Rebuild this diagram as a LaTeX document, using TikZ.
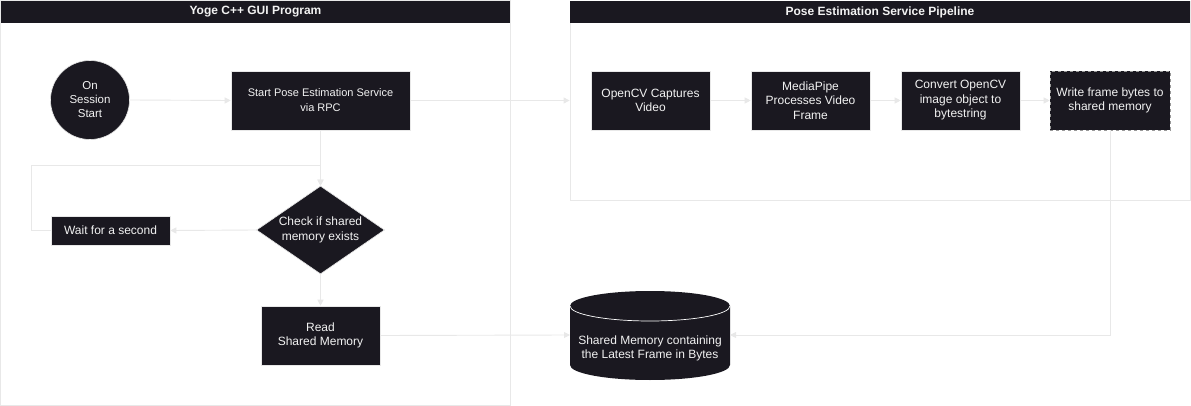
\documentclass[tikz,border=0pt]{standalone}
\usepackage{fontspec}
\setmainfont{Liberation Sans}
\usetikzlibrary{arrows.meta,shapes.geometric}
\definecolor{dk}{HTML}{1A1820}
\definecolor{ln}{HTML}{E8E8E8}
\definecolor{tx}{HTML}{F2F2F2}
\begin{document}
\begin{tikzpicture}[x=1pt,y=-1pt,
  txt/.style={font=\fontsize{12}{14.5}\selectfont,text=tx,align=center},
  box/.style={txt,draw=ln,line width=0.6pt,fill=dk,inner sep=0pt},
  hdr/.style={fill=dk,draw=none,inner sep=0pt,font=\fontsize{12}{14}\selectfont\bfseries,text=tx},
  cont/.style={draw=ln,line width=0.8pt,fill=white,inner sep=0pt},
  conn/.style={draw=ln,line width=0.9pt,-{Triangle[length=6pt,width=6pt]}}]
\useasboundingbox (0,0) rectangle (1191,406);
% containers
\node[cont,minimum width=509.5pt,minimum height=404.5pt] (lc) at (255.25,202.75) {};
\node[cont,minimum width=620pt,minimum height=199pt] (rc) at (880,100.5) {};
\node[hdr,minimum width=509pt,minimum height=22pt] (lh) at (255.5,12) {Yoge C++ GUI Program};
\node[hdr,minimum width=620pt,minimum height=22pt] (rh) at (880,12) {Pose Estimation Service Pipeline};
% left program
\node[box,circle,minimum size=79pt,font=\fontsize{11.5}{14}\selectfont] (start) at (90,100) {On\\Session\\Start};
\node[box,minimum width=179pt,minimum height=59pt,font=\fontsize{11}{15}\selectfont] (rpc) at (320.5,100.5) {Start Pose Estimation Service\\via RPC};
\node[box,diamond,aspect=1.45,minimum width=128pt,minimum height=88pt] (dia) at (320.5,230) {Check if shared\\memory exists};
\node[box,minimum width=119pt,minimum height=29pt] (wait) at (110.5,230.5) {Wait for a second};
\node[box,minimum width=119pt,minimum height=59pt] (read) at (320.5,335.5) {Read\\Shared Memory};
% pipeline
\node[box,minimum width=119pt,minimum height=59pt] (cv) at (650.5,100.5) {OpenCV Captures\\Video};
\node[box,minimum width=119pt,minimum height=59pt] (mp) at (810.5,100.5) {MediaPipe\\Processes Video\\Frame};
\node[box,minimum width=119pt,minimum height=59pt] (conv) at (960.5,100.5) {Convert OpenCV\\image object to\\bytestring};
\node[box,draw=gray!80,dashed,minimum width=120pt,minimum height=59pt] (write) at (1110,100.5) {Write frame bytes to\\shared memory};
% cylinder
\fill[dk] (570,306) -- (570,365) arc[start angle=180,end angle=360,x radius=80pt,y radius=15pt]
  -- (730,306) arc[start angle=0,end angle=180,x radius=80pt,y radius=15pt] -- cycle;
\draw[white,line width=0.7pt] (570,306) arc[start angle=180,end angle=360,x radius=80pt,y radius=15pt];
\node[txt] (shm) at (650,348.5) {Shared Memory containing\\the Latest Frame in Bytes};
\coordinate (cylL) at (570,335);
\coordinate (cylR) at (730,335);
\coordinate (loop) at (31,165);
% connectors
\draw[conn] (start.east) -- (rpc.west);
\draw[conn] (rpc.east) -- (rpc.east -| rc.west);
\draw[conn] (rpc.south) -- (dia.north);
\draw[conn] (dia.west) -- (wait.east);
\draw[conn] (wait.west) -| (loop) -| (dia.north);
\draw[conn] (dia.south) -- (read.north);
\draw[conn] (read.east) -- (cylL);
\draw[conn] (cv.east) -- (mp.west);
\draw[conn] (mp.east) -- (conv.west);
\draw[conn] (conv.east) -- (write.west);
\draw[conn] (write.south) |- (cylR);
\end{tikzpicture}
\end{document}
